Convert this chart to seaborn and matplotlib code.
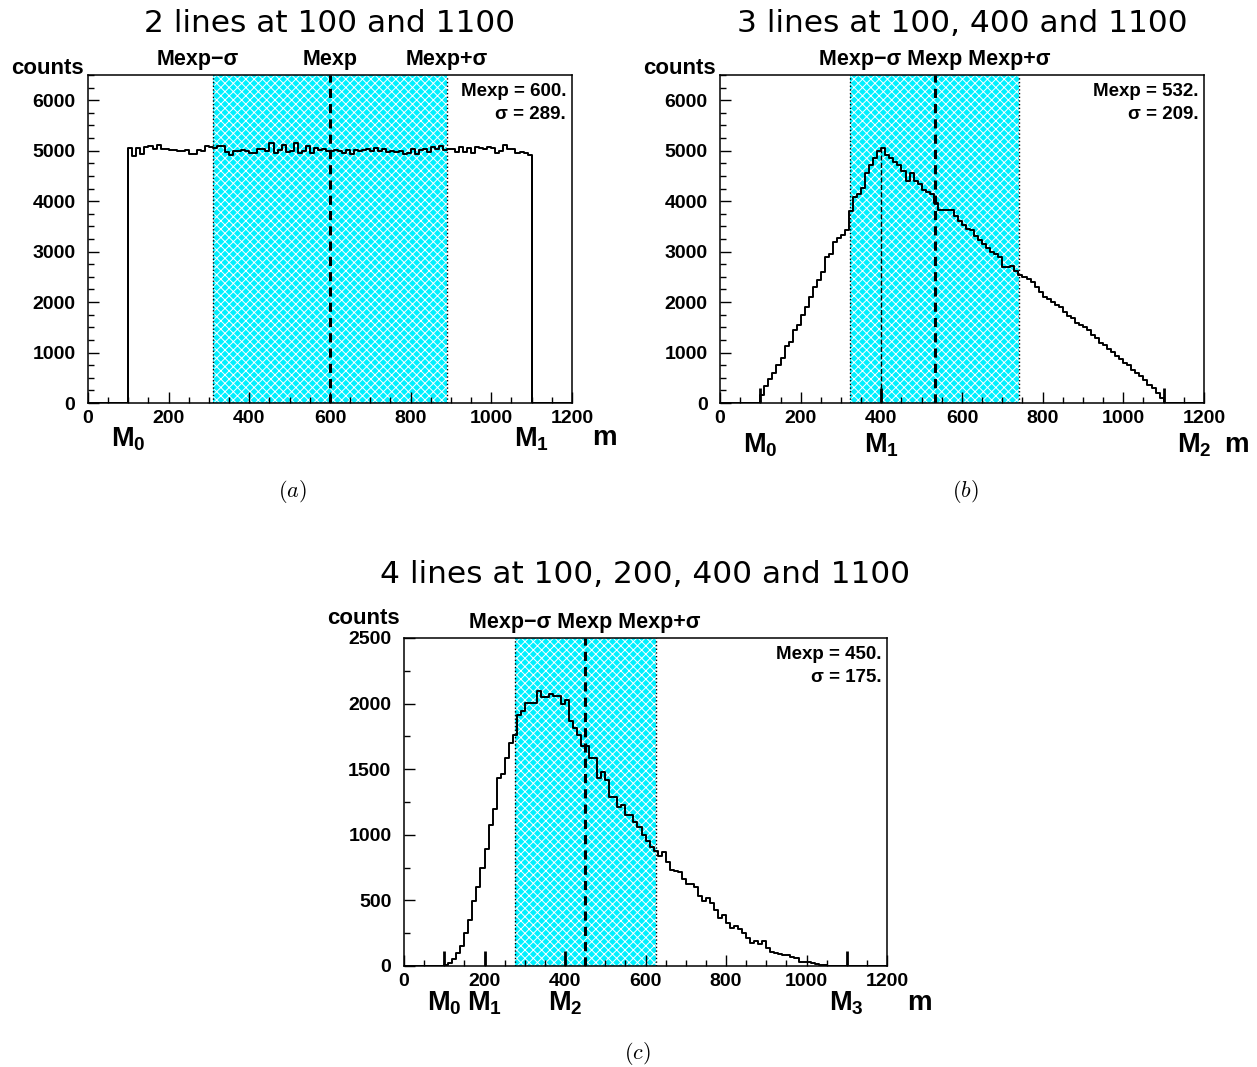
import numpy as np
import matplotlib
matplotlib.use("Agg")
import matplotlib.pyplot as plt
import matplotlib.transforms as mtransforms
from matplotlib.ticker import MultipleLocator
import seaborn as sns

# binning shared by the three spectra (bins of 10 between 100 and 1100)
bin_lo, bin_hi, bin_w = 100, 1100, 10

counts_a = [5060, 4900, 5050, 4930, 5080, 5100, 5040, 5120, 5030, 5040,
            5010, 5020, 4990, 5000, 5020, 4930, 4940, 5020, 5000, 5090,
            5070, 5060, 5100, 5100, 4980, 4920, 4990, 4990, 5010, 5000,
            4960, 4960, 5040, 5030, 5000, 5150, 4960, 5020, 5120, 4970,
            5000, 5150, 4960, 5000, 5090, 4960, 5050, 5020, 5030, 4990,
            5000, 5010, 4990, 4950, 5020, 4930, 5010, 5000, 5010, 5030,
            5000, 5060, 5000, 5030, 4970, 4990, 4970, 4990, 4940, 4960,
            5030, 4940, 5010, 5040, 4980, 5070, 5030, 5100, 5020, 5040,
            5030, 4970, 5080, 4970, 5060, 4950, 5070, 5050, 5030, 5080,
            5050, 4960, 4990, 5120, 5030, 5030, 4950, 4980, 4950, 4920]

counts_b = [150, 330, 480, 600, 760, 900, 1120, 1200, 1450, 1550,
            1750, 1910, 2100, 2300, 2440, 2600, 2900, 2950, 3200, 3270,
            3330, 3430, 3800, 4090, 4150, 4260, 4560, 4720, 4850, 4990,
            5050, 4920, 4850, 4780, 4720, 4600, 4390, 4560, 4400, 4350,
            4226, 4190, 4150, 3960, 3816, 3816, 3816, 3820, 3700, 3600,
            3530, 3450, 3430, 3300, 3230, 3150, 3080, 3000, 2960, 2900,
            2700, 2690, 2720, 2620, 2540, 2500, 2450, 2400, 2300, 2200,
            2100, 2070, 2000, 1950, 1910, 1800, 1720, 1680, 1580, 1540,
            1500, 1440, 1350, 1280, 1190, 1150, 1080, 1020, 940, 870,
            790, 750, 660, 600, 530, 450, 360, 300, 200, 90]

counts_c = [8, 21, 51, 97, 149, 251, 354, 495, 605, 744,
            892, 1072, 1200, 1431, 1464, 1585, 1700, 1759, 1913, 1944,
            2008, 2008, 2008, 2092, 2051, 2051, 2072, 2059, 2059, 1995,
            2026, 1867, 1815, 1764, 1674, 1674, 1585, 1585, 1431, 1482,
            1418, 1290, 1290, 1213, 1225, 1149, 1149, 1097, 1059, 995,
            956, 905, 880, 841, 872, 790, 730, 720, 713, 662,
            623, 623, 600, 533, 495, 521, 482, 430, 367, 392,
            330, 290, 302, 280, 251, 210, 174, 187, 169, 187,
            136, 110, 100, 90, 85, 80, 72, 60, 33, 30,
            28, 25, 15, 8, 5, 3, 2, 1, 0, 0]

titles = ["2 lines at 100 and 1100",
          "3 lines at 100, 400 and 1100",
          "4 lines at 100, 200, 400 and 1100"]
lines_a = [100, 1100]
lines_b = [100, 400, 1100]
lines_c = [100, 200, 400, 1100]
mexp_vals = [600, 532, 450]
sigma_vals = [289, 209, 175]
captions = ["(a)", "(b)", "(c)"]

sns.set_style("ticks")
plt.rcParams["font.family"] = ["Liberation Sans", "DejaVu Sans"]
plt.rcParams["font.weight"] = "bold"
plt.rcParams["text.color"] = "black"
plt.rcParams["xtick.color"] = "black"
plt.rcParams["ytick.color"] = "black"
plt.rcParams["axes.edgecolor"] = "black"
plt.rcParams["mathtext.fontset"] = "custom"
plt.rcParams["mathtext.rm"] = "Liberation Sans:bold"
plt.rcParams["mathtext.bf"] = "Liberation Sans:bold"
plt.rcParams["mathtext.it"] = "Liberation Sans:bold:italic"
plt.rcParams["hatch.linewidth"] = 0.7

band_color = "#00f0ff"
centers = np.arange(bin_lo, bin_hi, bin_w) + bin_w / 2


def draw_panel(ax, counts, lines, title, mexp, sigma, ymax, ymajor,
               split_labels, mlab_y, counts_y, mlab_shift=None):
    lo, hi = mexp - sigma, mexp + sigma
    ax.axvspan(lo, hi, facecolor=band_color, edgecolor="white",
               hatch="xxxx", lw=0, zorder=0)
    ax.axvline(lo, color="black", ls=":", lw=1, zorder=1)
    ax.axvline(hi, color="black", ls=":", lw=1, zorder=1)

    sns.histplot(x=centers, weights=counts, binwidth=bin_w, binrange=(0, 1200),
                 element="step", fill=False, color="black", linewidth=1.4,
                 ax=ax, zorder=3)

    # full-height edges of the flat spectrum, short markers elsewhere
    trans = mtransforms.blended_transform_factory(ax.transData, ax.transAxes)
    if len(lines) == 2:
        ax.vlines([bin_lo, bin_hi], 0, [counts[0], counts[-1]],
                  color="black", lw=1.4, zorder=3)
    else:
        ax.vlines(lines, 0, 0.045, transform=trans, color="black", lw=2, zorder=4)
    if len(lines) == 3:
        inner = lines[1]
        idx = (inner - bin_lo) // bin_w
        ax.vlines(inner, 0, counts[idx], color="black", ls="--", lw=1, zorder=2)

    ax.axvline(mexp, color="black", ls=(0, (3, 2)), lw=2.2, zorder=4)

    ax.set_xlim(0, 1200)
    ax.set_ylim(0, ymax)
    ax.set_xlabel("")
    ax.set_ylabel("")
    ax.xaxis.set_major_locator(MultipleLocator(200))
    ax.xaxis.set_minor_locator(MultipleLocator(50))
    ax.yaxis.set_major_locator(MultipleLocator(ymajor))
    ax.yaxis.set_minor_locator(MultipleLocator(250))
    ax.tick_params(which="both", direction="in", top=False, right=False,
                   labelsize=14, width=1, colors="black")
    ax.tick_params(axis="y", which="major", length=8, pad=9)
    ax.tick_params(axis="x", which="major", length=8, pad=5)
    ax.tick_params(which="minor", length=4)
    for s in ax.spines.values():
        s.set_visible(True)
        s.set_color("black")
        s.set_linewidth(1.1)

    ax.text(0.5, counts_y + 0.135, title, transform=ax.transAxes, ha="center",
            va="center", fontsize=22.5, fontweight="normal",
            family=["DejaVu Sans"], color="black")
    ax.text(-0.083, counts_y, "counts", transform=ax.transAxes, ha="center",
            va="center", fontsize=16)

    minus = "Mexp\u2212\u03c3"
    plus = "Mexp+\u03c3"
    if split_labels:
        ax.text(lo - 40, 1.015, minus, transform=trans, ha="center",
                va="bottom", fontsize=15.5)
        ax.text(mexp, 1.015, "Mexp", transform=trans, ha="center",
                va="bottom", fontsize=15.5)
        ax.text(hi, 1.015, plus, transform=trans, ha="center",
                va="bottom", fontsize=15.5)
    else:
        ax.text(mexp, 1.015, f"{minus} Mexp {plus}", transform=trans,
                ha="center", va="bottom", fontsize=15.5)

    ax.text(0.988, 0.975, f"Mexp = {mexp}.", transform=ax.transAxes,
            ha="right", va="top", fontsize=13.5)
    ax.text(0.988, 0.905, f"\u03c3 = {sigma}.", transform=ax.transAxes,
            ha="right", va="top", fontsize=13.5)

    for i, m in enumerate(lines):
        xm = m + (mlab_shift.get(i, 0) if mlab_shift else 0)
        ax.text(xm, mlab_y, f"M$_{i}$", transform=trans, ha="center",
                va="center", fontsize=19.5)
    ax.text(1.068, mlab_y + 0.003, "m", transform=ax.transAxes, ha="center",
            va="center", fontsize=20)


fig = plt.figure(figsize=(12.57, 10.67), dpi=100)
ax_a = fig.add_axes([0.0700, 0.6223, 0.3850, 0.3074])
ax_b = fig.add_axes([0.5728, 0.6223, 0.3850, 0.3074])
ax_c = fig.add_axes([0.3214, 0.0947, 0.3843, 0.3074])

draw_panel(ax_a, counts_a, lines_a, titles[0], mexp_vals[0], sigma_vals[0],
           6500, 1000, True, -0.11, 1.021)
draw_panel(ax_b, counts_b, lines_b, titles[1], mexp_vals[1], sigma_vals[1],
           6500, 1000, False, -0.13, 1.021, mlab_shift={2: 75})
draw_panel(ax_c, counts_c, lines_c, titles[2], mexp_vals[2], sigma_vals[2],
           2500, 500, False, -0.115, 1.058)

cap_pos = [(0.233, 0.539), (0.768, 0.539), (0.507, 0.013)]
for (cx, cy), cap in zip(cap_pos, captions):
    fig.text(cx, cy, f"${cap}$", ha="center", va="center", fontsize=16,
             math_fontfamily="cm")

fig.savefig("out.png", dpi=100)
